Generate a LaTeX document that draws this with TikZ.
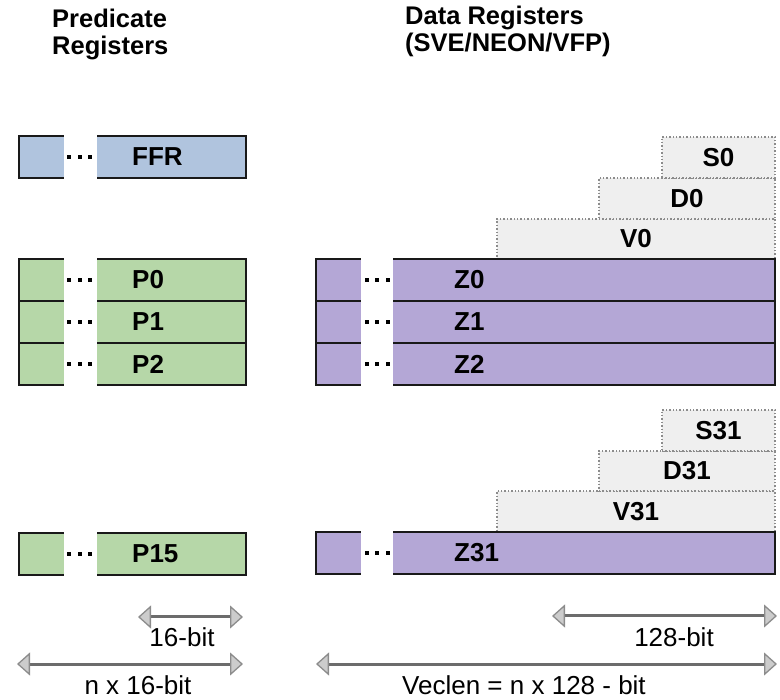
\documentclass[tikz,border=0pt]{standalone}
\usepackage{fontspec}
\setmainfont{Liberation Sans}
\usetikzlibrary{arrows.meta}
\definecolor{ffrblue}{RGB}{176,196,222}
\definecolor{pgreen}{RGB}{182,215,168}
\definecolor{zpurple}{RGB}{180,167,214}
\definecolor{aliasgray}{RGB}{239,239,239}
\definecolor{dimgray}{RGB}{108,108,108}
\definecolor{headfill}{RGB}{204,204,204}
\definecolor{headdraw}{RGB}{140,140,140}
\tikzset{
  regbox/.style={draw=black!90, line width=1.5pt, rectangle, inner sep=0pt, outer sep=0pt, anchor=north west},
  aliasbox/.style={draw=black!45, dotted, line width=1.4pt, fill=aliasgray, rectangle, inner sep=0pt, outer sep=0pt, anchor=north west, font=\bfseries\fontsize{26}{30}\selectfont},
  reglbl/.style={anchor=west, inner sep=0pt, font=\bfseries\fontsize{26}{30}\selectfont},
  titlelbl/.style={anchor=base west, inner sep=0pt, font=\bfseries\fontsize{25.5}{28}\selectfont},
  dimlbl/.style={anchor=center, inner sep=0pt, font=\fontsize{26}{30}\selectfont},
  dotsnode/.style={inner sep=0pt},
  gapcover/.style={fill=white},
  dimarrow/.style={line width=3pt, draw=dimgray,
    {Triangle[length=13pt,width=23pt,fill=headfill,color=headdraw,line width=1.3pt]}-{Triangle[length=13pt,width=23pt,fill=headfill,color=headdraw,line width=1.3pt]}}
}
\newcommand\threedots{\rule{4pt}{4pt}\hspace{6.5pt}\rule{4pt}{4pt}\hspace{6.5pt}\rule{4pt}{4pt}}
\begin{document}
\begin{tikzpicture}[x=1pt,y=-1pt]
\useasboundingbox (0,0) rectangle (780,700);

% titles
\node[titlelbl] (pt1) at (52,28) {Predicate};
\node[titlelbl] (pt2) at (52,55) {Registers};
\node[titlelbl] (dt1) at (405,25) {Data Registers};
\node[titlelbl] (dt2) at (405,52) {(SVE/NEON/VFP)};

% alias boxes (top group)
\node[aliasbox, minimum width=278pt, minimum height=40pt] (v0) at (497,219) {V0};
\node[aliasbox, minimum width=176pt, minimum height=41pt] (d0) at (599,178) {D0};
\node[aliasbox, minimum width=113pt, minimum height=41pt] (s0) at (662,137) {S0};
% alias boxes (bottom group)
\node[aliasbox, minimum width=278pt, minimum height=41pt] (v31) at (497,491) {V31};
\node[aliasbox, minimum width=176pt, minimum height=40pt] (d31) at (599,451) {D31};
\node[aliasbox, minimum width=113pt, minimum height=41pt] (s31) at (662,410) {S31};

% predicate registers
\node[regbox, fill=ffrblue, minimum width=227pt, minimum height=42pt] (ffr) at (19,136) {};
\node[regbox, fill=pgreen, minimum width=227pt, minimum height=42pt] (p0) at (19,259) {};
\node[regbox, fill=pgreen, minimum width=227pt, minimum height=42pt] (p1) at (19,301) {};
\node[regbox, fill=pgreen, minimum width=227pt, minimum height=42pt] (p2) at (19,343) {};
\node[regbox, fill=pgreen, minimum width=227pt, minimum height=42pt] (p15) at (19,533) {};

% data registers
\node[regbox, fill=zpurple, minimum width=459pt, minimum height=42pt] (z0) at (316,259) {};
\node[regbox, fill=zpurple, minimum width=459pt, minimum height=42pt] (z1) at (316,301) {};
\node[regbox, fill=zpurple, minimum width=459pt, minimum height=42pt] (z2) at (316,343) {};
\node[regbox, fill=zpurple, minimum width=459pt, minimum height=42pt] (z31) at (316,532) {};

% gaps
\fill[gapcover] (64,133) rectangle (97,181);
\fill[gapcover] (64,256) rectangle (97,388);
\fill[gapcover] (64,530) rectangle (97,578);
\fill[gapcover] (361,256) rectangle (393,388);
\fill[gapcover] (361,529) rectangle (393,577);

% dots
\node[dotsnode] (ffrdots) at (79.5,157) {\threedots};
\node[dotsnode] (p0dots) at (79.5,280) {\threedots};
\node[dotsnode] (p1dots) at (79.5,322) {\threedots};
\node[dotsnode] (p2dots) at (79.5,364) {\threedots};
\node[dotsnode] (p15dots) at (79.5,554) {\threedots};
\node[dotsnode] (z0dots) at (377,280) {\threedots};
\node[dotsnode] (z1dots) at (377,322) {\threedots};
\node[dotsnode] (z2dots) at (377,364) {\threedots};
\node[dotsnode] (z31dots) at (377,553) {\threedots};

% register labels
\node[reglbl] (ffrl) at (132,157) {FFR};
\node[reglbl] (p0l) at (132,280) {P0};
\node[reglbl] (p1l) at (132,322) {P1};
\node[reglbl] (p2l) at (132,364) {P2};
\node[reglbl] (p15l) at (132,554) {P15};
\node[reglbl] (z0l) at (454,280) {Z0};
\node[reglbl] (z1l) at (454,322) {Z1};
\node[reglbl] (z2l) at (454,364) {Z2};
\node[reglbl] (z31l) at (454,553) {Z31};

% dimension arrows
\coordinate (a16l) at (138,617);
\coordinate (a16r) at (243,617);
\coordinate (anl) at (17,664);
\coordinate (anr) at (243,664);
\coordinate (a128l) at (552,616);
\coordinate (a128r) at (777,616);
\coordinate (avl) at (316,664);
\coordinate (avr) at (777,664);
\draw[dimarrow] (a16l) -- (a16r);
\draw[dimarrow] (anl) -- (anr);
\draw[dimarrow] (a128l) -- (a128r);
\draw[dimarrow] (avl) -- (avr);
\node[dimlbl] (l16) at (182,637.5) {16-bit};
\node[dimlbl] (ln16) at (138,685) {n x 16-bit};
\node[dimlbl] (l128) at (674,637) {128-bit};
\node[dimlbl] (lveclen) at (524,685) {Veclen = n x 128 - bit};
\end{tikzpicture}
\end{document}
